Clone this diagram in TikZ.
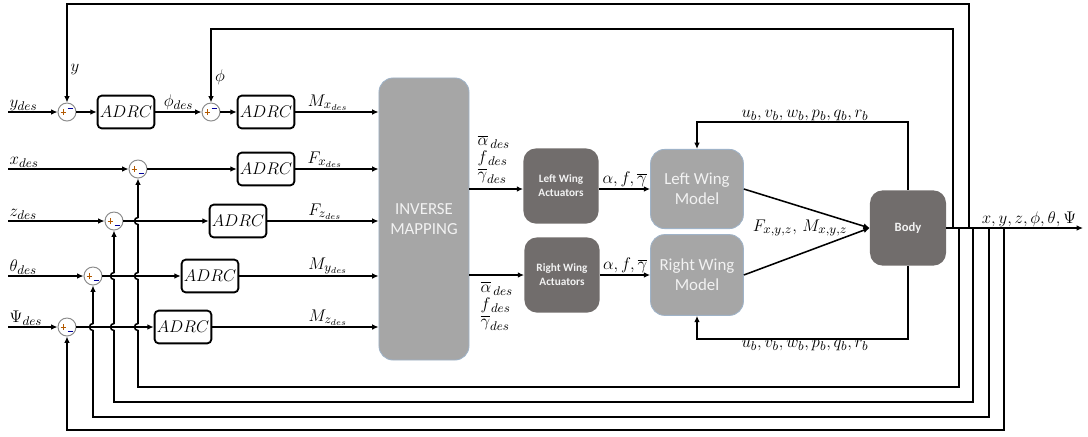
\documentclass[tikz,border=0pt]{standalone}
\usepackage{amsmath}
\usepackage{fontspec}
\newfontfamily\calfont{Carlito}
\usepackage{xcolor}
\usepackage{tikz}
\usetikzlibrary{arrows.meta,positioning,calc}

\definecolor{boxdark}{HTML}{716D6C}
\definecolor{boxlight}{HTML}{A6A6A6}
\definecolor{edgeblue}{HTML}{9FB3C8}

\begin{document}
\begin{tikzpicture}[
  x=0.025cm, y=-0.025cm,
  font=\fontsize{12.5}{14}\selectfont,
  ctrl/.style  = {rectangle, rounded corners=3pt, draw=black, line width=1.3pt,
                  minimum width=1.42cm, minimum height=0.82cm, inner sep=1pt},
  sumnode/.style = {circle, draw=black!45, line width=0.7pt, minimum size=0.45cm, inner sep=0pt},
  sumtop/.style = {sumnode, path picture={
      \draw[orange!70!black, line width=0.4pt]
        ([xshift=-4.5pt]path picture bounding box.center) -- ++(4pt,0)
        ([xshift=-2.5pt,yshift=-2pt]path picture bounding box.center) -- ++(0,4pt);
      \draw[blue!60!black, line width=0.4pt]
        ([xshift=0.5pt,yshift=2.5pt]path picture bounding box.center) -- ++(3.5pt,0);}},
  sumbot/.style = {sumnode, path picture={
      \draw[orange!70!black, line width=0.4pt]
        ([xshift=-4.5pt]path picture bounding box.center) -- ++(4pt,0)
        ([xshift=-2.5pt,yshift=-2pt]path picture bounding box.center) -- ++(0,4pt);
      \draw[blue!60!black, line width=0.4pt]
        ([xshift=0.5pt,yshift=-3pt]path picture bounding box.center) -- ++(3.5pt,0);}},
  bigbox/.style = {rectangle, rounded corners=10pt, fill=boxlight, draw=edgeblue, line width=0.6pt,
                  text=white!90!gray, font=\calfont\fontsize{12}{14}\selectfont, align=center},
  darkbox/.style = {rectangle, rounded corners=9pt, fill=boxdark, draw=none,
                  text=white!90!gray, font=\calfont\bfseries\fontsize{8}{10}\selectfont, align=center},
  lbl/.style   = {inner sep=1pt},
  arr/.style   = {-{Latex[length=4.5pt,width=4pt]}, line width=1.1pt}
]
\useasboundingbox (0,0) rectangle (1088,436);

%% Sums and controllers
\node[sumtop] (s1) at (67,112)  {};
\node[ctrl]   (c1) at (126,112) {$ADRC$};
\node[sumtop] (s2) at (211,112) {};
\node[ctrl]   (c2) at (266,112) {$ADRC$};
\node[sumbot] (sx) at (138,169) {};
\node[ctrl]   (cx) at (266,169) {$ADRC$};
\node[sumbot] (sz) at (114,221) {};
\node[ctrl]   (cz) at (238,221) {$ADRC$};
\node[sumbot] (st) at (93,276)  {};
\node[ctrl]   (ct) at (210,276) {$ADRC$};
\node[sumbot] (sp) at (67,327)  {};
\node[ctrl]   (cp) at (183,327) {$ADRC$};

%% Inputs
\node[lbl, anchor=south west] (yd) at (8,112) {$y_{des}$};
\node[lbl, anchor=south west] (xd) at (8,169) {$x_{des}$};
\node[lbl, anchor=south west] (zd) at (8,221) {$z_{des}$};
\node[lbl, anchor=south west] (td) at (8,276) {$\theta_{des}$};
\node[lbl, anchor=south west] (pd) at (8,327) {$\Psi_{des}$};

%% Mapping, actuators, models, body
\node[bigbox, minimum width=2.25cm, minimum height=7.05cm] (inv) at (424,219) {INVERSE\\MAPPING};
\node[darkbox, minimum width=1.88cm, minimum height=1.88cm] (lwa) at (561,186) {Left Wing\\Actuators};
\node[darkbox, minimum width=1.88cm, minimum height=1.88cm] (rwa) at (562,275) {Right Wing\\Actuators};
\node[bigbox, minimum width=2.32cm, minimum height=1.98cm] (lwm) at (697,189) {Left Wing\\Model};
\node[bigbox, minimum width=2.32cm, minimum height=2.02cm] (rwm) at (697,275) {Right Wing\\Model};
\node[darkbox, minimum width=1.9cm, minimum height=1.88cm,
      font=\calfont\bfseries\fontsize{9}{11}\selectfont] (body) at (908,228) {Body};

%% Output taps
\coordinate (t1)   at (953,228);
\coordinate (t2)   at (969,228);
\coordinate (b1)   at (959,228);
\coordinate (b2)   at (973,228);
\coordinate (b3)   at (989,228);
\coordinate (b4)   at (1004,228);
\coordinate (oend) at (1083,228);

%% Row y
\draw[arr] (yd.south west) -- (s1);
\draw[arr] (s1) -- (c1);
\draw[arr] (c1) -- node[lbl, above] (lphi) {$\phi_{des}$} (s2);
\draw[arr] (s2) -- (c2);
\draw[arr] (c2) -- (c2 -| inv.west);
%% Row x
\draw[arr] (xd.south west) -- (sx);
\draw[arr] (sx) -- (cx);
\draw[arr] (cx) -- (cx -| inv.west);
%% Row z
\draw[arr] (zd.south west) -- (sz);
\draw[arr] (sz) -- (cz);
\draw[arr] (cz) -- (cz -| inv.west);
%% Row theta
\draw[arr] (td.south west) -- (st);
\draw[arr] (st) -- (ct);
\draw[arr] (ct) -- (ct -| inv.west);
%% Row psi
\draw[arr] (pd.south west) -- (sp);
\draw[arr] (sp) -- (cp);
\draw[arr] (cp) -- (cp -| inv.west);

%% Controller outputs
\node[lbl, above] (lMx) at (328,112) {$M_{x_{des}}$};
\node[lbl, above] (lFx) at (325,169) {$F_{x_{des}}$};
\node[lbl, above] (lFz) at (325,221) {$F_{z_{des}}$};
\node[lbl, above] (lMy) at (328,276) {$M_{y_{des}}$};
\node[lbl, above] (lMz) at (328,327) {$M_{z_{des}}$};

%% Mapping -> actuators -> models
\draw[arr] (inv.east |- 0,189) -- (lwa.west |- 0,189);
\draw[arr] (inv.east |- rwa) -- (rwa.west);
\node[lbl, anchor=south west, align=left] (lal) at (476,185)
  {$\overline{\alpha}_{\,des}$\\[-2pt]$f_{\,des}$\\[-2pt]$\overline{\gamma}_{des}$};
\node[lbl, anchor=north west, align=left] (lar) at (479,280)
  {$\overline{\alpha}_{\,des}$\\[-2pt]$f_{\,des}$\\[-2pt]$\overline{\gamma}_{des}$};
\draw[arr] (lwa.east |- lwm) -- node[lbl, above] (lafl) {$\alpha, f, \overline{\gamma}$} (lwm.west);
\draw[arr] (rwa.east) -- node[lbl, above] (lafr) {$\alpha, f, \overline{\gamma}$} (rwm.west);

%% Models -> body
\draw[arr] (lwm.east) -- (body.west);
\draw[arr] (rwm.east) -- (body.west);
\node[lbl] (lFM) at (800,228) {$F_{x,y,z},\, M_{x,y,z}$};

%% State feedback to models
\draw[arr] (body.north) -- (908,122) -| (lwm.north);
\draw[arr] (body.south) -- (908,339) -| (rwm.south);
\node[lbl, above] (lst1) at (805,122) {$u_b, v_b, w_b, p_b, q_b, r_b$};
\node[lbl, below] (lst2) at (805,339) {$u_b, v_b, w_b, p_b, q_b, r_b$};

%% Output
\draw[arr] (body.east) -- (oend);
\node[lbl, above, font=\fontsize{12}{14}\selectfont] (lout) at (1029,228) {$x, y, z, \phi, \theta, \Psi$};

%% Top feedback
\draw[arr] (t2) -- (969,4) -| (s1);
\draw[arr] (t1) -- (953,29) -| (s2);
\node[lbl] (fy)   at (75,70) {$y$};
\node[lbl] (fphi) at (220,77) {$\phi$};

%% Bottom feedback (with line jumps)
\draw[arr] (b4) -- (1004,430) -| (sp);
\draw[arr] (b3) -- (989,417) -- (93,417) -- (93,330.5)
  arc[start angle=90, end angle=270, radius=3.5] -- (st);
\draw[arr] (b2) -- (973,402) -- (114,402) -- (114,330.5)
  arc[start angle=90, end angle=270, radius=3.5] -- (114,279.5)
  arc[start angle=90, end angle=270, radius=3.5] -- (sz);
\draw[arr] (b1) -- (959,387) -- (138,387) -- (138,330.5)
  arc[start angle=90, end angle=270, radius=3.5] -- (138,279.5)
  arc[start angle=90, end angle=270, radius=3.5] -- (138,224.5)
  arc[start angle=90, end angle=270, radius=3.5] -- (sx);
\end{tikzpicture}
\end{document}
